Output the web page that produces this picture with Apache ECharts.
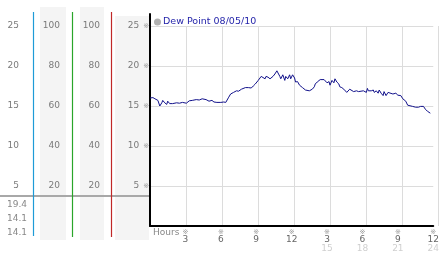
<!DOCTYPE html>
<html><head><meta charset="utf-8">
<script src="https://cdn.jsdelivr.net/npm/echarts@6/dist/echarts.min.js"></script>
<style>html,body{margin:0;padding:0;background:#fff}#c{width:442px;height:253px}</style>
</head><body><div id="c"></div>
<script>
// Dew point readings (hour of day, °C)
const hours = [
0,0.25,0.42,0.58,0.67,0.83,1.0,1.08,1.25,1.42,1.5,1.67,1.83,1.92,2.25,2.5,2.75,3.08,3.33,3.58,3.92,
4.17,4.42,4.58,4.75,5.0,5.25,5.42,5.67,6.0,6.25,6.42,6.67,6.83,7.08,7.33,7.5,7.75,8.08,8.33,8.58,8.75,8.92,
9.17,9.33,9.42,9.58,9.75,9.83,10.0,10.17,10.25,10.42,10.58,10.75,11.0,11.08,11.25,11.42,11.5,11.67,11.83,11.92,
12.08,12.25,12.33,12.5,12.67,12.75,12.92,13.08,13.17,13.33,13.5,13.58,13.75,13.92,14.0,14.17,14.33,14.42,14.75,14.83,
15.0,15.17,15.25,15.42,15.58,15.67,15.83,16.0,16.08,16.25,16.42,16.5,16.67,16.83,16.92,17.08,17.25,17.33,17.5,17.67,17.75,
18.08,18.33,18.42,18.5,18.58,18.75,18.92,19.0,19.17,19.33,19.42,19.58,19.75,19.83,20.0,20.17,20.25,20.58,20.83,
21.0,21.08,21.25,21.42,21.5,21.67,21.83,21.92,22.25,22.5,22.75,22.92,23.08,23.17,23.33,23.5,23.58,23.75
];
const dewPoint = [
16.0,16.05,15.9,15.95,15.7,15.0,15.4,15.7,15.4,15.2,15.6,15.3,15.5,15.3,15.4,15.35,15.45,15.35,15.65,15.7,15.8,
15.75,15.9,15.7,15.8,15.6,15.7,15.5,15.45,15.45,15.5,15.45,16.1,16.5,16.7,16.9,16.85,17.1,17.3,17.3,17.25,17.5,17.75,
18.2,18.4,18.7,18.6,18.4,18.7,18.6,18.4,18.2,18.7,19.0,19.4,18.7,18.4,18.9,18.2,18.7,18.4,18.9,18.4,
18.9,18.5,18.0,18.05,17.6,17.7,17.3,17.1,17.0,16.8,16.9,16.8,17.1,17.4,17.75,18.0,18.2,18.3,18.3,18.2,
17.9,18.05,17.6,18.2,17.9,18.4,18.0,17.75,17.4,17.3,17.1,17.2,16.7,16.9,17.1,16.9,16.8,17.0,16.9,16.8,16.9,
16.9,16.7,17.2,16.9,17.1,16.9,17.0,16.7,16.9,16.6,17.0,16.6,16.3,16.8,16.3,16.7,16.5,16.5,16.6,
16.35,16.5,16.3,15.9,15.8,15.6,15.1,14.95,14.95,14.85,14.85,14.95,14.7,14.95,14.6,14.35,14.25,14.1
];
const seriesName = 'Dew Point 08/05/10';
const xTopLabels = {3:'3',6:'6',9:'9',12:'12',15:'3',18:'6',21:'9',24:'12'};
const xNextDayLabels = {15:'15',18:'18',21:'21',24:'24'};
const statValues = ['19.4', '14.1', '14.1'];

const chart = echarts.init(document.getElementById('c'), null, {renderer:'canvas'});
const F = 'DejaVu Sans, Verdana, sans-serif';
const MARK_F = 'DejaVu Sans, Noto Sans CJK JP, sans-serif';
const labelGray = '#7a7a7a';
const yMaxA = 26.5, yMaxB = 106;

function leftAxis(offset, max, interval, margin) {
  return {
    type:'value', gridIndex:0, position:'left', offset: offset, min:0, max:max, interval:interval,
    axisLine:{show:false}, axisTick:{show:false}, splitLine:{show:false},
    axisLabel:{showMinLabel:false, showMaxLabel:false, color:labelGray, fontFamily:F, fontSize:9, margin:margin}
  };
}

const option = {
  animation:false,
  textStyle:{fontFamily:F},
  legend:{
    left:149, top:12, itemWidth:7, itemHeight:7, itemGap:2, icon:'circle',
    data:[{name:seriesName, itemStyle:{color:'#b0b0b0'}}],
    textStyle:{color:'#1f1fa8', fontSize:9.5, fontFamily:F, padding:[0,0,0,-3]}
  },
  grid:[
    {left:150, right:4, top:14, bottom:27},
    {left:150, right:4, top:26, bottom:27}
  ],
  xAxis:[
    {type:'value', gridIndex:0, min:0, max:24, interval:3,
     axisLine:{show:true, lineStyle:{color:'#000', width:2}},
     axisTick:{show:false}, splitLine:{show:false},
     axisLabel:{showMinLabel:false, margin:3, interval:0,
       formatter:function(v){
         const top = xTopLabels[v] || '';
         const bot = xNextDayLabels[v];
         return '{t|※}\n{n|' + top + '}' + (bot ? '\n{g|' + bot + '}' : '');
       },
       rich:{
         t:{fontSize:7, color:'#9a9a9a', lineHeight:6, fontFamily:MARK_F},
         n:{fontSize:9, color:'#666', lineHeight:9, fontFamily:F},
         g:{fontSize:9, color:'#cfcfcf', lineHeight:9, fontFamily:F}
       }}},
    {type:'value', gridIndex:1, min:0, max:24, interval:3,
     axisLine:{show:false}, axisTick:{show:false}, axisLabel:{show:false},
     splitLine:{show:true, lineStyle:{color:'#dcdcdc', width:1}}}
  ],
  yAxis:[
    {type:'value', gridIndex:0, min:0, max:yMaxA, interval:5,
     axisLine:{show:true, lineStyle:{color:'#000', width:2}},
     axisTick:{show:false},
     splitLine:{show:true, showMaxLine:false, showMinLine:false, lineStyle:{color:'#dcdcdc', width:1}},
     axisLabel:{showMinLabel:false, showMaxLabel:false, margin:1,
       formatter:function(v){ return '{n|' + v + '}{t|※}'; },
       rich:{
         n:{fontSize:9, color:labelGray, fontFamily:F, padding:[0,4,0,0]},
         t:{fontSize:7, color:'#9a9a9a', fontFamily:MARK_F}
       }}},
    leftAxis(39, yMaxB, 20, 11),
    leftAxis(78, yMaxB, 20, 12),
    leftAxis(117, yMaxA, 5, 14),
    {type:'value', gridIndex:1, min:0, max:25, show:false}
  ],
  series:[
    {name:seriesName, type:'line', xAxisIndex:0, yAxisIndex:0,
     data: hours.map((h,i)=>[h, dewPoint[i]]),
     showSymbol:false, symbol:'none',
     lineStyle:{color:'#10108a', width:1}, itemStyle:{color:'#10108a'}}
  ],
  graphic:[
    {type:'rect', z:-1, shape:{x:40, y:7, width:26, height:233}, style:{fill:'#f4f4f4'}},
    {type:'rect', z:-1, shape:{x:80, y:7, width:24, height:233}, style:{fill:'#f4f4f4'}},
    {type:'rect', z:-1, shape:{x:115, y:16, width:34, height:224}, style:{fill:'#f4f4f4'}},
    {type:'line', z:5, shape:{x1:0, y1:196, x2:149, y2:196}, style:{stroke:'#a8a8a8', lineWidth:2}},
    {type:'line', z:6, shape:{x1:33.5, y1:12, x2:33.5, y2:236}, style:{stroke:'#1e9bd7', lineWidth:1.2}},
    {type:'line', z:6, shape:{x1:72.5, y1:12, x2:72.5, y2:237}, style:{stroke:'#2aa52a', lineWidth:1.2}},
    {type:'line', z:6, shape:{x1:111.5, y1:12, x2:111.5, y2:237}, style:{stroke:'#c02828', lineWidth:1.2}},
    {type:'text', left:153, top:228, style:{text:'Hours', fill:'#888', font:'9px ' + F}},
    {type:'text', left:7, top:200, style:{text:statValues[0], fill:'#888', font:'9px ' + F}},
    {type:'text', left:7, top:214, style:{text:statValues[1], fill:'#888', font:'9px ' + F}},
    {type:'text', left:7, top:228, style:{text:statValues[2], fill:'#888', font:'9px ' + F}}
  ]
};
chart.setOption(option);
</script></body></html>
